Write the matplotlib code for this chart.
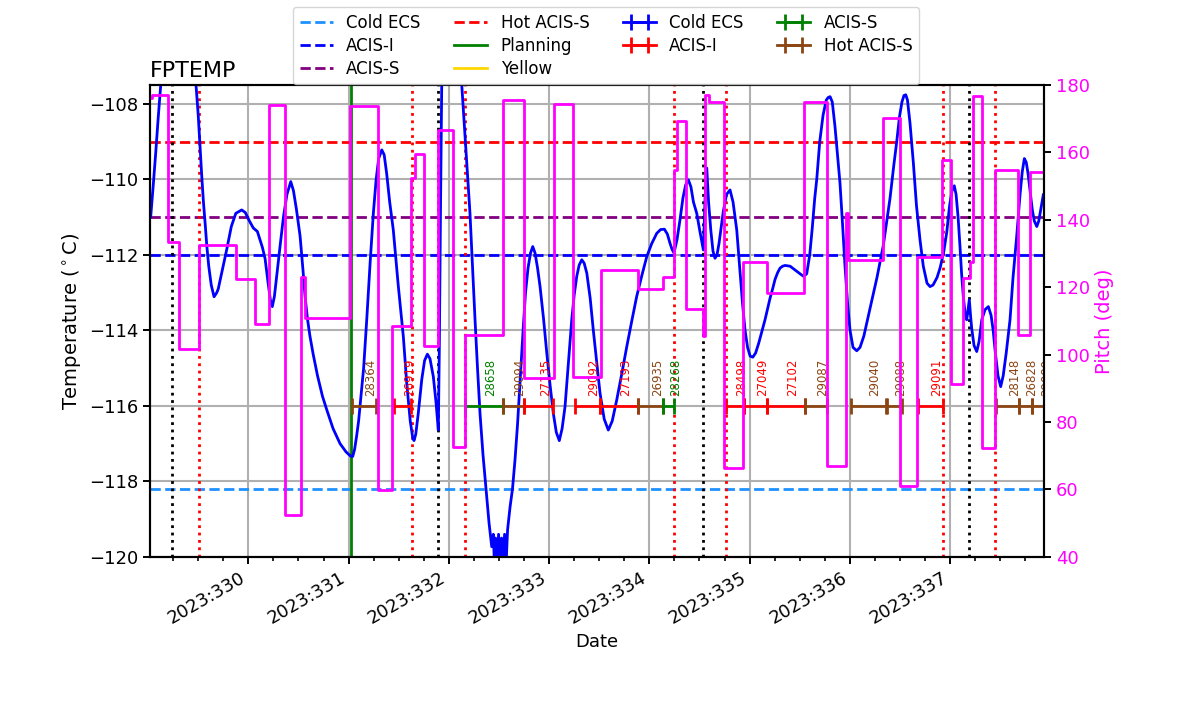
import matplotlib
matplotlib.use('Agg')
import matplotlib.pyplot as plt
from matplotlib.ticker import FixedLocator, MultipleLocator
import numpy as np

# ---------------- data ----------------
temp_time = [329.026, 329.050, 329.076, 329.100, 329.126, 329.160, 329.200, 329.300, 329.400,
             329.460, 329.478, 329.500, 329.518, 329.535, 329.552, 329.570, 329.585, 329.605,
             329.630, 329.658, 329.685, 329.700, 329.740, 329.785, 329.830, 329.875, 329.934,
             329.970, 330.010, 330.050, 330.090, 330.110, 330.140, 330.167, 330.195, 330.220,
             330.239, 330.260, 330.285, 330.316, 330.350, 330.385, 330.423, 330.450, 330.480,
             330.516, 330.545, 330.566, 330.590, 330.615, 330.648, 330.690, 330.740, 330.782,
             330.845, 330.915, 330.975, 331.020, 331.041, 331.060, 331.080, 331.100, 331.114,
             331.150, 331.181, 331.215, 331.247, 331.275, 331.300, 331.331, 331.355, 331.380,
             331.410, 331.446, 331.495, 331.546, 331.580, 331.615, 331.640, 331.653, 331.670,
             331.695, 331.730, 331.758, 331.786, 331.812, 331.845, 331.872, 331.895, 331.905,
             331.918, 331.929, 331.960, 332.020, 332.080, 332.129, 332.172, 332.211, 332.236,
             332.261, 332.286, 332.311, 332.341, 332.378, 332.401, 332.428, 332.444, 332.456,
             332.466, 332.481, 332.496, 332.511, 332.526, 332.541, 332.556, 332.571, 332.586,
             332.611, 332.635, 332.660, 332.685, 332.705, 332.725, 332.743, 332.765, 332.790,
             332.815, 332.837, 332.860, 332.885, 332.910, 332.945, 332.977, 333.010, 333.042,
             333.072, 333.102, 333.130, 333.159, 333.192, 333.226, 333.251, 333.276, 333.300,
             333.326, 333.350, 333.376, 333.410, 333.441, 333.475, 333.508, 333.550, 333.591,
             333.630, 333.675, 333.725, 333.775, 333.825, 333.874, 333.925, 333.974, 334.024,
             334.074, 334.112, 334.150, 334.180, 334.206, 334.226, 334.246, 334.276, 334.306,
             334.335, 334.362, 334.389, 334.415, 334.440, 334.473, 334.506, 334.539, 334.556,
             334.573, 334.591, 334.613, 334.635, 334.655, 334.675, 334.695, 334.718, 334.738,
             334.770, 334.805, 334.835, 334.872, 334.900, 334.930, 334.955, 334.980, 335.005,
             335.032, 335.060, 335.090, 335.120, 335.154, 335.180, 335.204, 335.230, 335.254,
             335.280, 335.304, 335.330, 335.354, 335.404, 335.453, 335.503, 335.540, 335.570,
             335.600, 335.625, 335.650, 335.670, 335.700, 335.733, 335.765, 335.785, 335.803,
             335.825, 335.852, 335.875, 335.902, 335.930, 335.952, 335.978, 336.002, 336.032,
             336.069, 336.102, 336.140, 336.176, 336.220, 336.271, 336.334, 336.401, 336.440,
             336.468, 336.495, 336.520, 336.540, 336.558, 336.575, 336.600, 336.634, 336.665,
             336.700, 336.733, 336.770, 336.800, 336.830, 336.870, 336.900, 336.935, 336.967,
             336.995, 337.020, 337.042, 337.060, 337.080, 337.099, 337.115, 337.132, 337.150,
             337.166, 337.179, 337.192, 337.204, 337.216, 337.239, 337.266, 337.289, 337.316,
             337.349, 337.382, 337.409, 337.430, 337.448, 337.478, 337.505, 337.530, 337.560,
             337.598, 337.628, 337.665, 337.698, 337.720, 337.741, 337.760, 337.778, 337.800,
             337.820, 337.840, 337.865, 337.885, 337.905, 337.930]
temp_val = [-110.99, -110.2, -109.3, -108.4, -107.5, -106.7, -106.2, -106.0, -106.5,
            -107.2, -107.5, -108.3, -109.13, -109.9, -110.6, -111.2, -111.74, -112.3,
            -112.8, -113.11, -113.0, -112.9, -112.4, -111.85, -111.25, -110.9, -110.81,
            -110.88, -111.1, -111.29, -111.38, -111.55, -111.8, -112.1, -112.7, -113.2,
            -113.37, -113.1, -112.5, -111.78, -111.0, -110.4, -110.06, -110.3, -110.8,
            -111.5, -112.4, -113.1, -113.7, -114.16, -114.65, -115.2, -115.75, -116.1,
            -116.6, -117.0, -117.22, -117.33, -117.34, -117.15, -116.8, -116.4, -116.0,
            -115.0, -113.72, -112.2, -110.9, -110.0, -109.45, -109.22, -109.35, -109.85,
            -110.6, -111.34, -112.8, -114.16, -115.4, -116.4, -116.85, -116.92, -116.75,
            -116.2, -115.3, -114.8, -114.63, -114.75, -115.22, -115.9, -116.64, -114.5,
            -110.5, -107.5, -106.5, -106.0, -106.4, -107.5, -109.3, -110.9, -112.3,
            -113.7, -115.0, -116.2, -117.3, -118.4, -119.1, -119.73, -119.4, -120.3,
            -119.5, -120.4, -119.4, -120.3, -119.5, -120.3, -119.4, -120.2, -119.28,
            -118.67, -118.2, -117.43, -116.5, -115.6, -114.7, -113.9, -113.0, -112.35,
            -111.95, -111.78, -111.95, -112.35, -112.84, -113.7, -114.6, -115.45, -116.19,
            -116.7, -116.92, -116.6, -116.02, -114.9, -113.72, -113.05, -112.57, -112.27,
            -112.13, -112.22, -112.48, -113.15, -113.99, -114.85, -115.66, -116.35, -116.64,
            -116.4, -115.84, -115.15, -114.43, -113.75, -113.1, -112.55, -112.05, -111.7,
            -111.43, -111.33, -111.32, -111.45, -111.69, -111.85, -111.95, -111.6, -111.07,
            -110.5, -110.15, -110.01, -110.2, -110.6, -110.9, -111.4, -111.87, -110.5,
            -109.7, -110.6, -111.34, -111.9, -112.09, -112.0, -111.7, -111.25, -110.85,
            -110.4, -110.28, -110.6, -111.34, -112.3, -113.3, -114.0, -114.45, -114.68,
            -114.71, -114.6, -114.35, -114.05, -113.72, -113.42, -113.15, -112.9, -112.65,
            -112.47, -112.35, -112.3, -112.28, -112.3, -112.4, -112.5, -112.57, -112.5,
            -112.0, -111.3, -110.5, -110.0, -109.0, -108.3, -107.9, -107.83, -107.81,
            -107.95, -108.6, -109.3, -110.1, -111.3, -112.3, -113.3, -114.0, -114.45,
            -114.54, -114.45, -114.15, -113.72, -113.2, -112.6, -111.75, -110.5, -109.6,
            -109.0, -108.35, -107.95, -107.78, -107.76, -107.9, -108.5, -109.57, -110.7,
            -111.6, -112.3, -112.75, -112.84, -112.8, -112.6, -112.35, -111.95, -111.4,
            -110.7, -110.3, -110.17, -110.4, -111.0, -111.78, -112.5, -113.1, -113.55,
            -113.72, -113.45, -113.19, -113.6, -113.95, -114.4, -114.56, -114.3, -113.72,
            -113.45, -113.37, -113.6, -114.0, -114.5, -115.2, -115.49, -115.2, -114.6,
            -113.72, -112.6, -111.5, -110.4, -109.8, -109.45, -109.55, -109.85, -110.35,
            -110.8, -111.1, -111.25, -111.1, -110.8, -110.41]

pitch_time = [329.019, 329.039, 329.196, 329.309, 329.508, 329.877, 330.070, 330.203, 330.366,
              330.523, 330.566, 331.019, 331.289, 331.436, 331.620, 331.663, 331.753, 331.892,
              332.045, 332.162, 332.538, 332.753, 333.052, 333.242, 333.515, 333.890, 334.140,
              334.249, 334.273, 334.366, 334.536, 334.559, 334.598, 334.745, 334.938, 335.171,
              335.543, 335.776, 335.959, 335.979, 336.334, 336.501, 336.667, 336.917, 337.010,
              337.132, 337.199, 337.232, 337.316, 337.449, 337.681, 337.798, 337.937]
pitch_val = [176.2, 177.0, 133.4, 101.7, 132.6, 122.5, 109.2, 174.1, 52.5,
             123.0, 110.9, 173.9, 59.9, 108.5, 152.5, 159.4, 102.7, 166.5,
             72.5, 105.7, 175.4, 93.0, 174.4, 93.5, 125.1, 119.4, 123.0,
             154.8, 169.3, 113.6, 105.5, 177.0, 175.0, 66.3, 127.6, 118.2,
             174.8, 67.1, 142.0, 128.1, 170.3, 60.9, 129.1, 157.7, 91.3,
             122.7, 127.6, 176.7, 72.4, 154.8, 105.9, 154.3, 154.3]

limit_names = ['Cold ECS', 'ACIS-I', 'ACIS-S', 'Hot ACIS-S', 'Planning', 'Yellow']
limit_values = [-118.2, -112.0, -111.0, -109.0, -107.0, -106.0]
limit_colors = ['dodgerblue', 'blue', 'purple', 'red', 'green', 'gold']
limit_styles = ['--', '--', '--', '--', '-', '-']

obsids = ['28364', '26919', '28658', '29094', '27135', '29092', '27193', '26935', '28268',
          '28498', '27049', '27102', '29087', '29040', '29088', '29091', '28148', '26828', '29089']
obs_start = [331.034, 331.456, 332.162, 332.541, 332.748, 333.259, 333.503, 333.887, 334.140,
             334.762, 334.948, 335.177, 335.553, 336.009, 336.368, 336.677, 337.458, 337.691, 337.815]
obs_stop = [331.277, 331.626, 332.541, 332.748, 333.044, 333.503, 333.887, 334.140, 334.246,
            334.948, 335.177, 335.553, 335.770, 336.361, 336.518, 336.927, 337.691, 337.815, 337.977]
obs_type = ['Hot ACIS-S', 'ACIS-I', 'ACIS-S', 'Hot ACIS-S', 'ACIS-I', 'ACIS-I', 'ACIS-I',
            'Hot ACIS-S', 'ACIS-S', 'ACIS-I', 'ACIS-I', 'ACIS-I', 'Hot ACIS-S', 'Hot ACIS-S',
            'Hot ACIS-S', 'ACIS-I', 'Hot ACIS-S', 'Hot ACIS-S', 'Hot ACIS-S']
obs_level = -116.0
type_names = ['Cold ECS', 'ACIS-I', 'ACIS-S', 'Hot ACIS-S']
type_colors = ['blue', 'red', 'green', '#8B4513']

black_lines = [329.242, 331.895, 334.539, 337.192]
red_lines = [329.508, 331.630, 332.162, 334.249, 334.762, 336.933, 337.452]
green_line = 331.024

day_ticks = [330, 331, 332, 333, 334, 335, 336, 337]
day_labels = ['2023:%d' % d for d in day_ticks]
xlims = (329.019, 337.937)

# ---------------- plot ----------------
fig = plt.figure(figsize=(12, 7.14), dpi=100)
ax = fig.add_axes([0.125, 0.22, 0.745, 0.661])

ax.plot(temp_time, temp_val, color='blue', lw=2, zorder=3)

handles = []
for name, val, col, ls in zip(limit_names, limit_values, limit_colors, limit_styles):
    h = ax.axhline(val, color=col, ls=ls, lw=2, label=name)
    handles.append(h)

for t in black_lines:
    ax.axvline(t, color='black', ls=':', lw=2)
for t in red_lines:
    ax.axvline(t, color='red', ls=':', lw=2)
ax.axvline(green_line, color='green', ls='-', lw=2)

tcol = dict(zip(type_names, type_colors))
eb_handles = {}
eb_handles['Cold ECS'] = ax.errorbar([np.nan], [np.nan], xerr=[np.nan], color=tcol['Cold ECS'],
                                     lw=2, capsize=5.5, capthick=2)
for oid, t0, t1, typ in zip(obsids, obs_start, obs_stop, obs_type):
    mid = 0.5 * (t0 + t1)
    half = 0.5 * (t1 - t0)
    col = tcol[typ]
    eb = ax.errorbar([mid], [obs_level], xerr=[half], color=col, lw=2,
                     capsize=5.5, capthick=2, zorder=4)
    if typ not in eb_handles:
        eb_handles[typ] = eb
    ax.text(mid, obs_level + 0.27, oid, rotation=90, color=col, fontsize=8.5,
            ha='left', va='bottom', clip_on=True, zorder=5)

for name in type_names:
    handles.append(eb_handles[name])
labels = limit_names + type_names

ax.set_xlim(*xlims)
ax.set_ylim(-120, -107.5)
ax.set_yticks([-120, -118, -116, -114, -112, -110, -108])
ax.xaxis.set_major_locator(FixedLocator(day_ticks))
ax.set_xticklabels(day_labels, rotation=30, ha='right')
ax.xaxis.set_minor_locator(MultipleLocator(0.25))
ax.grid(True, which='major', color='#b0b0b0', lw=1.5)
ax.set_axisbelow(True)
ax.tick_params(axis='both', which='major', labelsize=13, length=5, width=1.4)
ax.tick_params(axis='both', which='minor', length=3, width=1.2)
ax.set_xlabel('Date', fontsize=13)
ax.set_ylabel(r'Temperature ($^\circ$C)', fontsize=14)
ax.set_title('FPTEMP', loc='left', fontsize=16)
for sp in ax.spines.values():
    sp.set_linewidth(1.5)

ax2 = ax.twinx()
ax2.plot(pitch_time, pitch_val, drawstyle='steps-post', color='magenta', lw=2)
ax2.set_ylim(40, 180)
ax2.set_xlim(*xlims)
ax2.set_ylabel('Pitch (deg)', color='magenta', fontsize=14)
ax2.tick_params(axis='y', labelcolor='magenta', labelsize=13, length=5, width=1.4)
for sp in ax2.spines.values():
    sp.set_linewidth(1.5)

fig.legend(handles, labels, ncol=4, loc='upper center', bbox_to_anchor=(0.505, 0.99),
           fontsize=12, borderaxespad=0, labelspacing=0.3)

fig.savefig('out.png', dpi=100)
